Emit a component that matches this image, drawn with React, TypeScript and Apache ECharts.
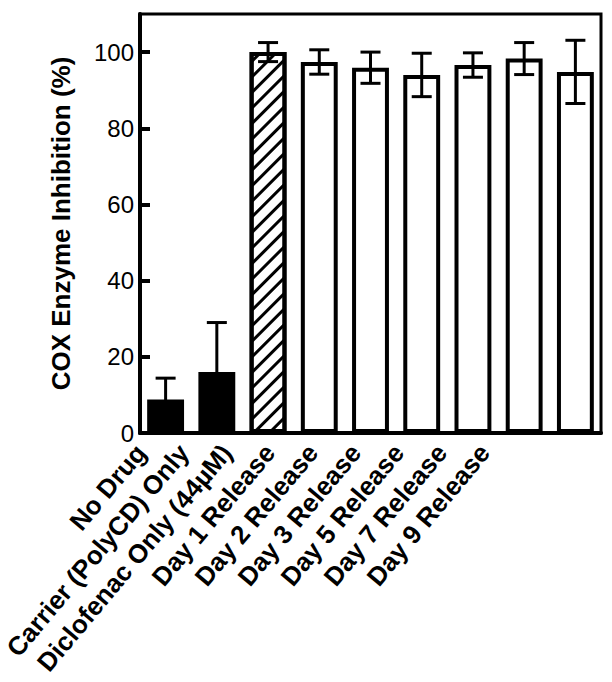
import React, { useEffect, useRef } from "react";
import * as echarts from "echarts";

const categories = [
  "No Drug",
  "Carrier (PolyCD) Only",
  "Diclofenac Only (44µM)",
  "Day 1 Release",
  "Day 2 Release",
  "Day 3 Release",
  "Day 5 Release",
  "Day 7 Release",
  "Day 9 Release",
];
const inhibition = [8.8, 16, 100, 97.4, 95.9, 94, 96.6, 98.3, 94.8];
const errors = [5.6, 13, 2.5, 3.2, 4.1, 5.7, 3.2, 4.2, 8.3];
const barKinds = ["solid", "solid", "hatched", "open", "open", "open", "open", "open", "open"];
const yTicks = { min: 0, max: 110, interval: 20 };
const yTitle = "COX Enzyme Inhibition (%)";

const FONT = "'Liberation Sans', Arial, Helvetica, sans-serif";

function styleFor(kind: string) {
  if (kind === "solid") {
    return { color: "#000", borderColor: "#000", borderWidth: 4 };
  }
  if (kind === "hatched") {
    return {
      color: "#fff",
      borderColor: "#000",
      borderWidth: 4,
      decal: {
        symbol: "rect",
        symbolSize: 1,
        dashArrayX: [1, 0],
        dashArrayY: [3, 8],
        rotation: -Math.PI / 4,
        color: "#000",
      },
    };
  }
  return { color: "#fff", borderColor: "#000", borderWidth: 4 };
}

export default function App() {
  const ref = useRef<HTMLDivElement>(null);
  useEffect(() => {
    if (!ref.current) return;
    const chart = echarts.init(ref.current, undefined, { renderer: "svg" });
    const barData = inhibition.map((v, i) => ({ value: v, itemStyle: styleFor(barKinds[i]) }));
    const errData = inhibition.map((v, i) => [i, v - errors[i], v + errors[i]]);
    chart.setOption({
      animation: false,
      backgroundColor: "#fff",
      grid: [
        {
          left: 140,
          right: 11,
          top: 14,
          bottom: 249,
          show: true,
          borderColor: "#000",
          borderWidth: 3,
          backgroundColor: "transparent",
        },
        { left: 119, width: 387, top: 14, bottom: 249, show: false },
      ],
      xAxis: [
        {
          type: "category",
          gridIndex: 0,
          data: categories,
          axisLine: { lineStyle: { color: "#000", width: 4 } },
          axisTick: { inside: true, alignWithLabel: true, length: 11, lineStyle: { color: "#000", width: 4 } },
          axisLabel: { show: false },
          splitLine: { show: false },
        },
        {
          type: "category",
          gridIndex: 1,
          data: categories,
          axisLine: { show: false },
          axisTick: { show: false },
          axisLabel: {
            rotate: 50,
            interval: 0,
            margin: 15,
            fontFamily: FONT,
            fontWeight: "bold",
            fontSize: 26,
            color: "#000",
          },
        },
      ],
      yAxis: [
        {
          type: "value",
          gridIndex: 0,
          min: yTicks.min,
          max: yTicks.max,
          interval: yTicks.interval,
          name: yTitle,
          nameLocation: "middle",
          nameGap: 66,
          nameTextStyle: { fontFamily: FONT, fontWeight: "bold", fontSize: 26, color: "#000" },
          axisLine: { show: true, lineStyle: { color: "#000", width: 4 } },
          axisTick: { show: true, inside: true, length: 10, lineStyle: { color: "#000", width: 4 } },
          axisLabel: { fontFamily: FONT, fontSize: 24, color: "#000", margin: 6, showMaxLabel: false },
          splitLine: { show: false },
        },
        { type: "value", gridIndex: 1, show: false, min: 0, max: 110 },
      ],
      series: [
        {
          type: "bar",
          xAxisIndex: 0,
          yAxisIndex: 0,
          data: barData,
          barWidth: "72%",
          z: 2,
        },
        {
          type: "custom",
          xAxisIndex: 0,
          yAxisIndex: 0,
          z: 5,
          data: errData,
          encode: { x: 0, y: [1, 2] },
          renderItem: (params: any, api: any) => {
            const idx = api.value(0);
            const lo = api.coord([idx, api.value(1)]);
            const hi = api.coord([idx, api.value(2)]);
            const hw = 10;
            const st = { stroke: "#000", lineWidth: 3 };
            return {
              type: "group",
              children: [
                { type: "line", shape: { x1: hi[0], y1: hi[1], x2: lo[0], y2: lo[1] }, style: st },
                { type: "line", shape: { x1: hi[0] - hw, y1: hi[1], x2: hi[0] + hw, y2: hi[1] }, style: st },
                { type: "line", shape: { x1: lo[0] - hw, y1: lo[1], x2: lo[0] + hw, y2: lo[1] }, style: st },
              ],
            };
          },
        },
      ],
    });
    return () => chart.dispose();
  }, []);
  return (
    <div
      ref={ref}
      style={{ position: "fixed", left: 0, top: 0, width: 612, height: 682, background: "#fff" }}
    />
  );
}
